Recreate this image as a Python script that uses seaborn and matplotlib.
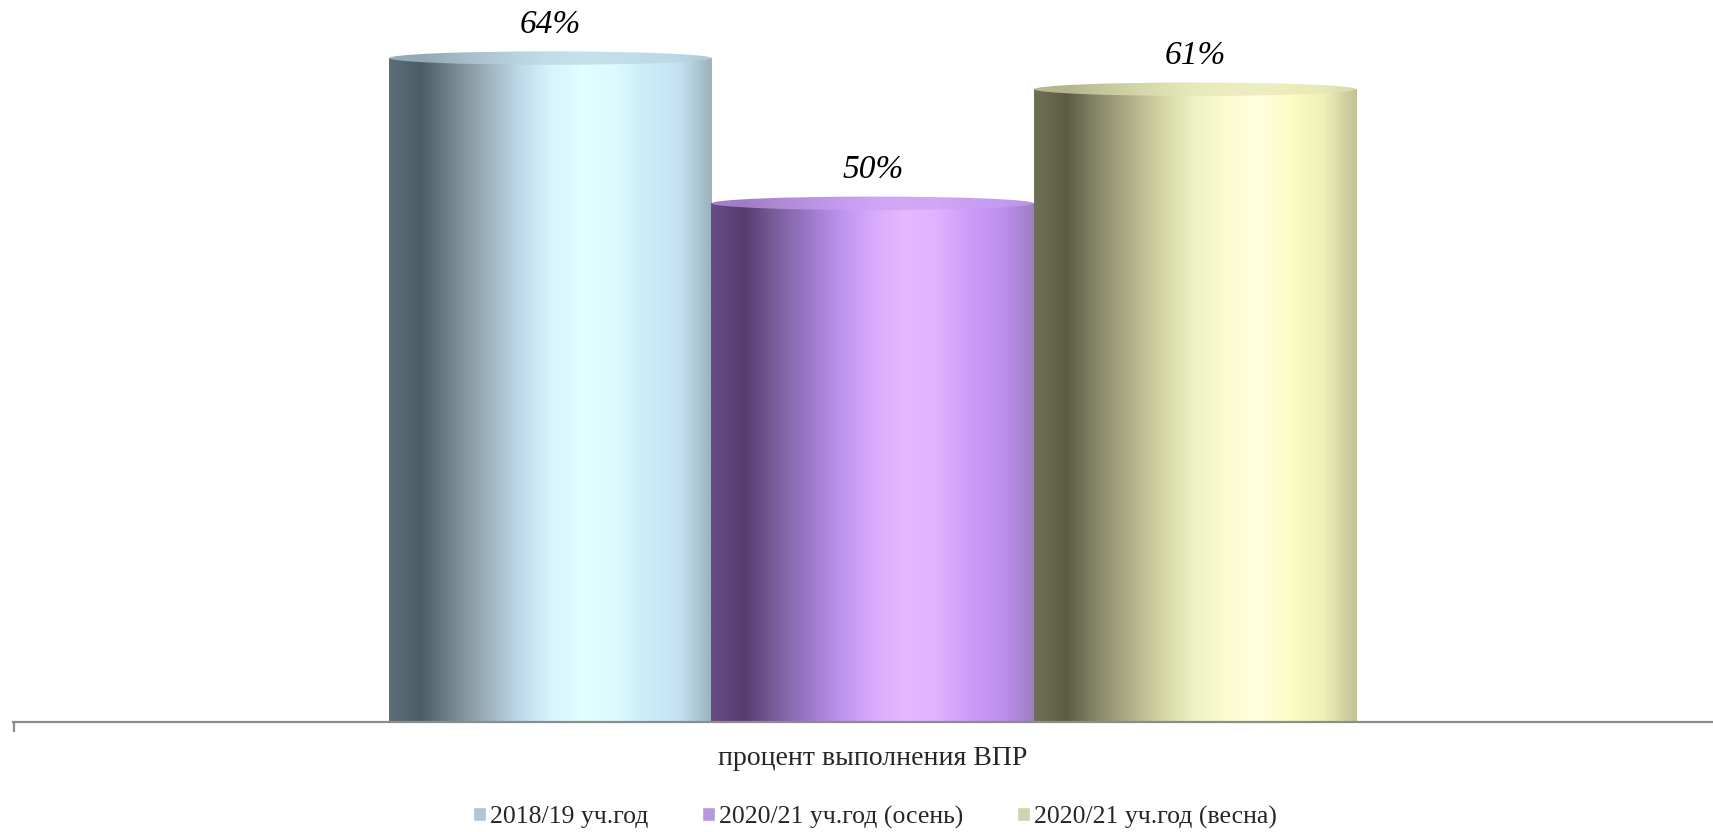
import numpy as np
import pandas as pd
import matplotlib
matplotlib.use("Agg")
import matplotlib.pyplot as plt
from matplotlib.colors import LinearSegmentedColormap, to_rgb
from matplotlib.patches import Ellipse
import seaborn as sns

# data
category = ["процент выполнения ВПР"]
series = ["2018/19 уч.год", "2020/21 уч.год (осень)", "2020/21 уч.год (весна)"]
values = [64, 50, 61]

df = pd.DataFrame({"cat": category * len(series), "series": series, "value": values})

# gradient stops for the cylinder look (left -> right)
grad_stops = [
    ["#5c6e78", "#4d5d65", "#76888f", "#9cb0ba", "#bcd8e8", "#d6f4fc", "#e0ffff", "#dcfaff", "#cdebf8", "#c4e2f2", "#9cb2bc"],
    ["#6a4c86", "#553c6e", "#7a5e9c", "#9c78c8", "#bc92ee", "#d8aafc", "#e6b8ff", "#e0b2ff", "#cc9cf8", "#c090f0", "#9c7ec4"],
    ["#707056", "#5c5c44", "#8a8a6a", "#b0b08c", "#d4d6a4", "#eef4c4", "#fcfcd0", "#fffee0", "#fcfcc4", "#eef0b8", "#c2c294"],
]
cap_colors = ["#b6d2de", "#c8a0f0", "#e4e4b4"]
legend_colors = ["#a9c9d9", "#b58ee6", "#d8d8a8"]

sns.set_style("white")
plt.rcParams["font.family"] = ["Liberation Serif", "DejaVu Serif"]

fig = plt.figure(figsize=(17.13, 8.32), dpi=100)
ax = fig.add_axes([13 / 1713, 110 / 832, 1700 / 1713, 722 / 832])

sns.barplot(data=df, x="cat", y="value", hue="series", hue_order=series,
            palette=legend_colors, width=0.8, gap=0, ax=ax, legend=True)

ylim_top = 69.6
xlim = (-0.711, 0.695)

grad = np.linspace(0, 1, 256).reshape(1, -1)
cap_h = 1.3
for i, patch in enumerate(ax.patches[:3]):
    x0 = patch.get_x()
    w = patch.get_width()
    h = patch.get_height()
    patch.set_alpha(0)
    cmap = LinearSegmentedColormap.from_list(f"c{i}", grad_stops[i])
    body = ax.add_patch(plt.Rectangle((x0, 0), w, h, facecolor="none", edgecolor="none"))
    im = ax.imshow(grad, extent=[x0, x0 + w, 0, h], aspect="auto", cmap=cmap, zorder=2)
    im.set_clip_path(body)
    # top cap: softer, mostly flat colour
    mid = np.array(to_rgb(cap_colors[i]))
    light = [tuple(0.35 * np.array(to_rgb(c)) + 0.65 * mid) for c in grad_stops[i]]
    cmap2 = LinearSegmentedColormap.from_list(f"l{i}", light)
    cap = ax.add_patch(Ellipse((x0 + w / 2, h), w * 0.998, cap_h,
                               facecolor="none", edgecolor="none"))
    im2 = ax.imshow(grad, extent=[x0, x0 + w, h - cap_h, h + cap_h], aspect="auto",
                    cmap=cmap2, zorder=3)
    im2.set_clip_path(cap)

ax.set_xlim(*xlim)
ax.set_ylim(0, ylim_top)

for cont, v in zip(ax.containers, values):
    ax.bar_label(cont, labels=[f"{v}%"], padding=13, fontsize=24, style="italic", color="black")

sns.despine(ax=ax, left=True, top=True, right=True)
ax.spines["bottom"].set_color("#8c8c8c")
ax.spines["bottom"].set_linewidth(1.6)
ax.set_yticks([])
ax.set_xlabel("")
ax.set_ylabel("")
ax.tick_params(axis="x", which="major", bottom=False, length=0, pad=17, labelsize=20)
ax.set_xticks([xlim[0] + 0.001], minor=True)
ax.tick_params(axis="x", which="minor", bottom=True, length=7, width=1.6, color="#8c8c8c")

sns.move_legend(ax, "center", bbox_to_anchor=(875 / 1713, 15 / 832), bbox_transform=fig.transFigure,
                ncol=3, frameon=False, title=None, fontsize=18.5,
                handlelength=0.5, handleheight=0.5, handletextpad=0.15, columnspacing=2.1)

fig.savefig("out.png", dpi=100)
